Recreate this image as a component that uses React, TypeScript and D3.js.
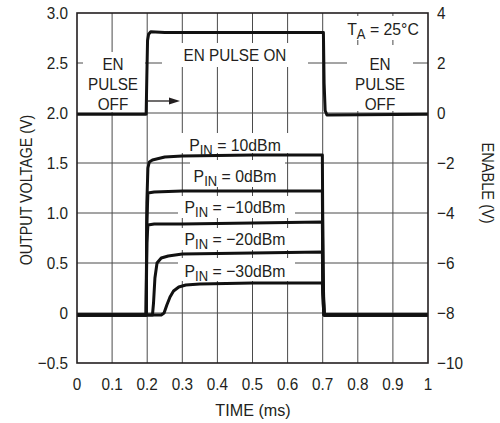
import React from 'react';
import * as d3 from 'd3';

const timeTicks = [0, 0.1, 0.2, 0.3, 0.4, 0.5, 0.6, 0.7, 0.8, 0.9, 1];
const timeTickLabels = ['0', '0.1', '0.2', '0.3', '0.4', '0.5', '0.6', '0.7', '0.8', '0.9', '1'];
const leftTicks = [-0.5, 0, 0.5, 1, 1.5, 2, 2.5, 3];
const leftTickLabels = ['\u22120.5', '0', '0.5', '1.0', '1.5', '2.0', '2.5', '3.0'];
const rightTicks = [-10, -8, -6, -4, -2, 0, 2, 4];
const rightTickLabels = ['\u221210', '\u22128', '\u22126', '\u22124', '\u22122', '0', '2', '4'];

// Enable pulse (right axis, V)
const enableTime = [0, 0.197, 0.199, 0.201, 0.204, 0.21, 0.25, 0.5, 0.702, 0.704, 0.707, 0.712, 1];
const enableVolts = [-0.05, -0.05, 1.5, 2.9, 3.15, 3.25, 3.22, 3.22, 3.22, 1.2, 0.1, -0.08, -0.05];

// Output voltages (left axis, V)
const p10Time = [0, 0.197, 0.199, 0.202, 0.206, 0.215, 0.25, 0.3, 0.5, 0.699, 0.701, 0.704, 1];
const p10Volts = [-0.02, -0.02, 1.1, 1.45, 1.51, 1.53, 1.56, 1.57, 1.58, 1.58, 0.4, -0.02, -0.02];
const p0Time = [0, 0.197, 0.199, 0.202, 0.22, 0.3, 0.699, 0.701, 0.704, 1];
const p0Volts = [-0.02, -0.02, 0.9, 1.2, 1.21, 1.22, 1.22, 0.3, -0.02, -0.02];
const pm10Time = [0, 0.197, 0.199, 0.202, 0.22, 0.3, 0.5, 0.699, 0.701, 0.704, 1];
const pm10Volts = [-0.02, -0.02, 0.7, 0.88, 0.89, 0.89, 0.9, 0.91, 0.25, -0.02, -0.02];
const pm20Time = [0, 0.215, 0.218, 0.222, 0.228, 0.24, 0.26, 0.3, 0.5, 0.699, 0.701, 0.704, 1];
const pm20Volts = [-0.02, -0.02, 0.1, 0.35, 0.5, 0.55, 0.57, 0.59, 0.6, 0.61, 0.2, -0.02, -0.02];
const pm30Time = [0, 0.24, 0.248, 0.256, 0.265, 0.275, 0.29, 0.31, 0.35, 0.5, 0.699, 0.701, 0.704, 1];
const pm30Volts = [-0.02, -0.02, 0.0, 0.08, 0.16, 0.22, 0.26, 0.28, 0.29, 0.3, 0.3, 0.1, -0.02, -0.02];

const outputSeries = [
  { name: '10dBm', time: p10Time, volts: p10Volts },
  { name: '0dBm', time: p0Time, volts: p0Volts },
  { name: '\u221210dBm', time: pm10Time, volts: pm10Volts },
  { name: '\u221220dBm', time: pm20Time, volts: pm20Volts },
  { name: '\u221230dBm', time: pm30Time, volts: pm30Volts },
];

const W = 500;
const H = 423;
const L = 77, R = 428, T = 13, B = 363;
const FONT = "'Liberation Sans', Arial, Helvetica, sans-serif";

const x = d3.scaleLinear().domain([0, 1]).range([L, R]);
const yL = d3.scaleLinear().domain([-0.5, 3]).range([B, T]);
const yR = d3.scaleLinear().domain([-10, 4]).range([B, T]);

function Txt({ x, y, anchor = 'middle', size = 17, rotate = 0, sx = 0.9, children }: any) {
  return (
    <text
      transform={`translate(${x},${y}) rotate(${rotate}) scale(${sx},1)`}
      textAnchor={anchor}
      fontSize={size}
      fontFamily={FONT}
      fill="#231f20"
    >
      {children}
    </text>
  );
}

function PinLabel({ x, y, value }: any) {
  return (
    <Txt x={x} y={y} sx={0.93}>
      P<tspan fontSize={14} dy={4}>IN</tspan>
      <tspan dy={-4}>{` = ${value}`}</tspan>
    </Txt>
  );
}

export default function App() {
  const lineL = d3.line<[number, number]>().x((d) => x(d[0])).y((d) => yL(d[1]));
  const lineR = d3.line<[number, number]>().x((d) => x(d[0])).y((d) => yR(d[1]));
  const enablePts = enableTime.map((t, i) => [t, enableVolts[i]] as [number, number]);

  const boxes = [
    [83, 52, 145, 112],
    [162, 43, 308, 67],
    [347, 45, 413, 111],
    [340, 16, 425, 40],
    [180, 133, 290, 153],
    [190, 160, 285, 187],
    [178, 196, 295, 218],
    [178, 228, 295, 250],
    [178, 258, 295, 281],
  ];

  const pinY = [151, 182, 213, 245, 277];

  return (
    <svg width={W} height={H} style={{ position: 'absolute', left: 0, top: 0, background: '#fff' }}>
      <rect x={0} y={0} width={W} height={H} fill="#fff" />
      {/* grid */}
      {timeTicks.slice(1, -1).map((t) => (
        <line key={'v' + t} x1={x(t)} x2={x(t)} y1={T} y2={B} stroke="#4a4a4a" strokeWidth={1} />
      ))}
      {leftTicks.slice(1, -1).map((v) => (
        <line key={'h' + v} x1={L} x2={R} y1={yL(v)} y2={yL(v)} stroke="#4a4a4a" strokeWidth={1} />
      ))}
      {/* label backgrounds */}
      {boxes.map((b, i) => (
        <rect key={'b' + i} x={b[0]} y={b[1]} width={b[2] - b[0]} height={b[3] - b[1]} fill="#fff" />
      ))}
      {/* traces */}
      <path d={lineR(enablePts) || ''} fill="none" stroke="#111" strokeWidth={3} strokeLinejoin="round" />
      {outputSeries.map((s) => (
        <path
          key={s.name}
          d={lineL(s.time.map((t, i) => [t, s.volts[i]] as [number, number])) || ''}
          fill="none"
          stroke="#111"
          strokeWidth={3}
          strokeLinejoin="round"
        />
      ))}
      {/* frame */}
      <rect x={L} y={T} width={R - L} height={B - T} fill="none" stroke="#231f20" strokeWidth={1.6} />
      {/* tick labels */}
      {leftTicks.map((v, i) => (
        <Txt key={'lt' + v} x={68} y={yL(v) + 6} anchor="end">{leftTickLabels[i]}</Txt>
      ))}
      {rightTicks.map((v, i) => (
        <Txt key={'rt' + v} x={437} y={yR(v) + 6} anchor="start">{rightTickLabels[i]}</Txt>
      ))}
      {timeTicks.map((t, i) => (
        <Txt key={'bt' + t} x={x(t)} y={390}>{timeTickLabels[i]}</Txt>
      ))}
      {/* axis titles */}
      <Txt x={253} y={416} sx={0.95}>TIME (ms)</Txt>
      <Txt x={32} y={190} rotate={-90} sx={0.84}>OUTPUT VOLTAGE (V)</Txt>
      <Txt x={482} y={183} rotate={90} sx={0.86}>ENABLE (V)</Txt>
      {/* annotations */}
      <Txt x={113} y={70}>EN</Txt>
      <Txt x={113} y={90}>PULSE</Txt>
      <Txt x={113} y={110}>OFF</Txt>
      <Txt x={380} y={70}>EN</Txt>
      <Txt x={380} y={90}>PULSE</Txt>
      <Txt x={380} y={110}>OFF</Txt>
      <Txt x={235} y={61}>EN PULSE ON</Txt>
      <Txt x={383} y={35} sx={0.93}>
        T<tspan fontSize={14} dy={4}>A</tspan>
        <tspan dy={-4}> = 25°C</tspan>
      </Txt>
      <line x1={147} x2={172} y1={101} y2={101} stroke="#231f20" strokeWidth={1.3} />
      <path d="M180,101 L169,97.5 L169,104.5 Z" fill="#231f20" />
      {outputSeries.map((s, i) => (
        <PinLabel key={'pl' + s.name} x={235} y={pinY[i]} value={s.name} />
      ))}
    </svg>
  );
}
